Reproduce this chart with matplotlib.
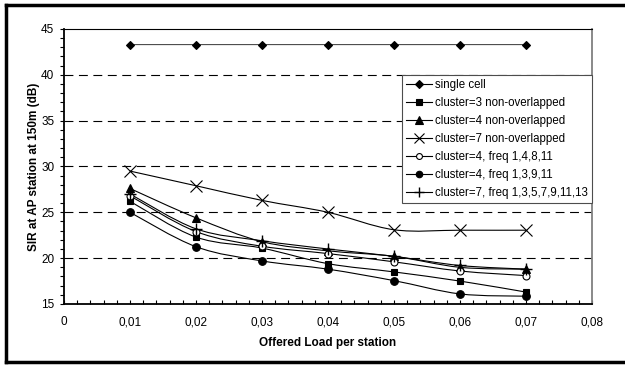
import numpy as np
import matplotlib
matplotlib.use('Agg')
import matplotlib.pyplot as plt
from matplotlib.path import Path
from matplotlib.patches import PathPatch
from matplotlib.lines import Line2D
from matplotlib.ticker import MultipleLocator, FuncFormatter

plt.rcParams['font.family'] = ['Liberation Sans', 'DejaVu Sans']
plt.rcParams['font.size'] = 8

# data
load = [0.01, 0.02, 0.03, 0.04, 0.05, 0.06, 0.07]
single_cell = [43.3, 43.3, 43.3, 43.3, 43.3, 43.3, 43.3]
cl3_nonov = [26.2, 22.3, 21.1, 19.4, 18.5, 17.5, 16.3]
cl4_nonov = [27.6, 24.4, 21.8, 20.8, 20.2, 19.0, 18.8]
cl7_nonov = [29.5, 27.9, 26.3, 25.0, 23.1, 23.05, 23.05]
cl4_f14811 = [26.8, 22.9, 21.3, 20.5, 19.6, 18.6, 18.1]
cl4_f13911 = [25.0, 21.25, 19.7, 18.8, 17.55, 16.1, 15.85]
cl7_f_odd = [27.0, 23.2, 21.9, 21.0, 20.2, 19.2, 18.8]

labels = ['single cell', 'cluster=3 non-overlapped', 'cluster=4 non-overlapped',
          'cluster=7 non-overlapped', 'cluster=4, freq 1,4,8,11',
          'cluster=4, freq 1,3,9,11', 'cluster=7, freq 1,3,5,7,9,11,13']
series = [single_cell, cl3_nonov, cl4_nonov, cl7_nonov, cl4_f14811, cl4_f13911, cl7_f_odd]
# (marker, size, facecolor, marker edge width)
styles = [('D', 4.5, 'black', 0.8), ('s', 5, 'black', 0.8), ('^', 6, 'black', 0.8),
          ('x', 9, 'black', 0.8), ('o', 5, 'white', 0.8), ('o', 5.5, 'black', 0.8),
          ('+', 8.5, 'black', 1.0)]


def smooth_path(x, y):
    # excel-like smoothed line: cubic bezier through the points
    pts = np.column_stack([x, y])
    n = len(pts)
    verts = [pts[0]]
    codes = [Path.MOVETO]
    for i in range(n - 1):
        p0 = pts[max(i - 1, 0)]
        p1 = pts[i]
        p2 = pts[i + 1]
        p3 = pts[min(i + 2, n - 1)]
        c1 = p1 + (p2 - p0) / 6.0
        c2 = p2 - (p3 - p1) / 6.0
        verts += [c1, c2, p2]
        codes += [Path.CURVE4] * 3
    return Path(verts, codes)


fig = plt.figure(figsize=(6.25, 3.66), dpi=100)
ax = fig.add_axes([0.1024, 0.1694, 0.8448, 0.7514])

for yv in [20, 25, 30, 35, 40]:
    ax.axhline(yv, color='black', lw=0.8, ls=(0, (8, 5)), zorder=1)

handles = []
for vals, lab, (m, ms, fc, mew) in zip(series, labels, styles):
    lc = '0.3' if lab == 'single cell' else 'black'
    ax.add_patch(PathPatch(smooth_path(load, vals), fill=False, edgecolor=lc, lw=0.8, zorder=2))
    ax.plot(load, vals, ls='none', marker=m, ms=ms, mfc=fc, mec='black', mew=mew, zorder=3)
    handles.append(Line2D([], [], color='black', lw=0.8, marker=m, ms=ms * 0.85,
                          mfc=fc, mec='black', mew=mew))

ax.set_xlim(0, 0.08)
ax.set_ylim(15, 45)
ax.xaxis.set_major_locator(MultipleLocator(0.01))
ax.xaxis.set_minor_locator(MultipleLocator(0.002))
ax.yaxis.set_major_locator(MultipleLocator(5))
ax.yaxis.set_minor_locator(MultipleLocator(1))
ax.xaxis.set_major_formatter(FuncFormatter(lambda v, p: '0' if v == 0 else f'{v:.2f}'.replace('.', ',')))
ax.tick_params(axis='x', which='both', direction='in', length=3, width=0.8, pad=9, labelsize=8.5)
ax.tick_params(axis='y', which='both', direction='out', length=3, width=0.8, pad=4, labelsize=8.5)

for s in ['left', 'bottom']:
    ax.spines[s].set_linewidth(1.3)
    ax.spines[s].set_color('black')
ax.spines['top'].set_linewidth(0.8)
ax.spines['top'].set_color('black')
ax.spines['right'].set_linewidth(1.3)
ax.spines['right'].set_color('0.5')

ax.set_xlabel('Offered Load per station', fontweight='bold', fontsize=8.5, labelpad=6)
ax.set_ylabel('SIR at AP station at 150m (dB)', fontweight='bold', fontsize=8.5, labelpad=1)

leg = ax.legend(handles, labels, loc='upper right', bbox_to_anchor=(1.0, 0.833),
                borderaxespad=0, fancybox=False, framealpha=1, edgecolor='0.3',
                handlelength=2.2, handletextpad=0.3, labelspacing=0.52,
                borderpad=0.35, fontsize=8.3)
leg.get_frame().set_linewidth(0.8)
leg.set_zorder(5)

# outer chart frame
fw = 2.5
fig.add_artist(Line2D([0.009, 0.009], [0.011, 0.986], color='black', lw=fw, transform=fig.transFigure))
fig.add_artist(Line2D([0.009, 1.0], [0.986, 0.986], color='black', lw=fw, transform=fig.transFigure))
fig.add_artist(Line2D([0.009, 1.0], [0.011, 0.011], color='black', lw=fw, transform=fig.transFigure))

fig.savefig('out.png', dpi=100)
